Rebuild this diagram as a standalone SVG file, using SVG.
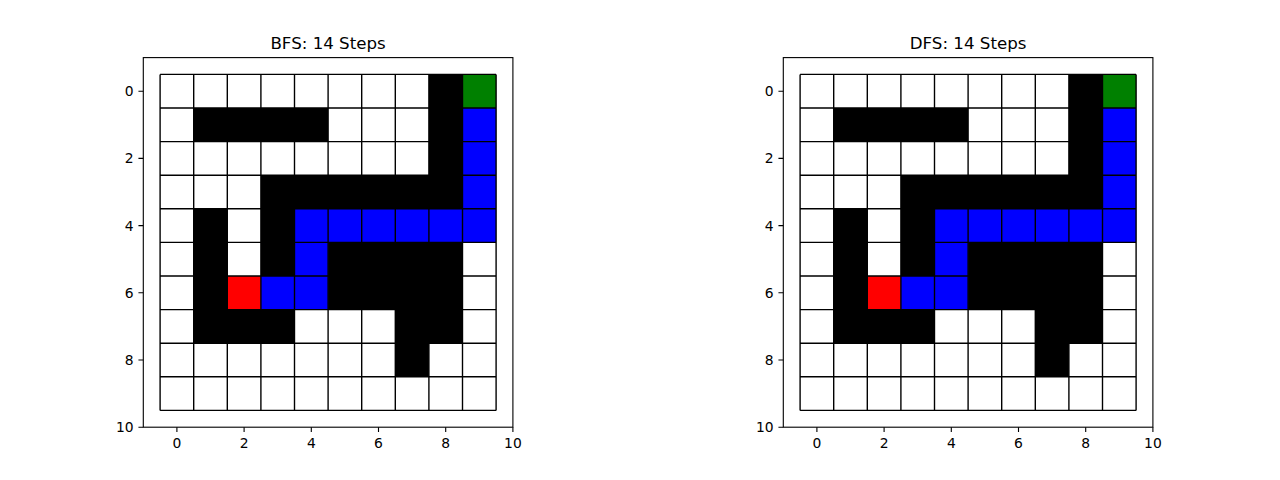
<svg xmlns="http://www.w3.org/2000/svg" xmlns:xlink="http://www.w3.org/1999/xlink" width="1280" height="480" viewBox="0 0 1280 480">
<style>
text{font-family:"DejaVu Sans",sans-serif;fill:#000}
.title{font-size:16.67px;text-anchor:middle}
.tl{font-size:13.89px}
.xt{text-anchor:middle}
.yt{text-anchor:end}
.wall{fill:#000}
.path{fill:#0000ff}
.goal{fill:#008000}
.start{fill:#ff0000}
.grid{stroke:#000;stroke-width:1.39;fill:none}
.spine{fill:none;stroke:#000;stroke-width:1.11}
.tick{stroke:#000;stroke-width:1.11}
</style>
<defs>
<g id="maze">
<rect x="16.8" y="16.8" width="336" height="336" fill="#fff"/>
<rect class="wall" x="285.6" y="16.8" width="33.6" height="100.8"/>
<rect class="wall" x="50.4" y="50.4" width="134.4" height="33.6"/>
<rect class="wall" x="117.6" y="117.6" width="201.6" height="33.6"/>
<rect class="wall" x="50.4" y="151.2" width="33.6" height="100.8"/>
<rect class="wall" x="50.4" y="252" width="100.8" height="33.6"/>
<rect class="wall" x="117.6" y="151.2" width="33.6" height="67.2"/>
<rect class="wall" x="184.8" y="184.8" width="134.4" height="67.2"/>
<rect class="wall" x="252" y="252" width="67.2" height="33.6"/>
<rect class="wall" x="252" y="285.6" width="33.6" height="33.6"/>
<rect class="path" x="319.2" y="50.4" width="33.6" height="100.8"/>
<rect class="path" x="151.2" y="151.2" width="201.6" height="33.6"/>
<rect class="path" x="151.2" y="184.8" width="33.6" height="33.6"/>
<rect class="path" x="117.6" y="218.4" width="67.2" height="33.6"/>
<rect class="goal" x="319.2" y="16.8" width="33.6" height="33.6"/>
<rect class="start" x="84" y="218.4" width="33.6" height="33.6"/>
<path class="grid" d="M16.8 16.8V352.8M50.4 16.8V352.8M84 16.8V352.8M117.6 16.8V352.8M151.2 16.8V352.8M184.8 16.8V352.8M218.4 16.8V352.8M252 16.8V352.8M285.6 16.8V352.8M319.2 16.8V352.8M352.8 16.8V352.8M16.8 16.8H352.8M16.8 50.4H352.8M16.8 84H352.8M16.8 117.6H352.8M16.8 151.2H352.8M16.8 184.8H352.8M16.8 218.4H352.8M16.8 252H352.8M16.8 285.6H352.8M16.8 319.2H352.8M16.8 352.8H352.8"/>
<rect class="spine" x="0" y="0" width="369.6" height="369.6"/>
<path class="tick" d="M33.6 369.6v4.86M100.8 369.6v4.86M168 369.6v4.86M235.2 369.6v4.86M302.4 369.6v4.86M369.6 369.6v4.86M0 33.6h-4.86M0 100.8h-4.86M0 168h-4.86M0 235.2h-4.86M0 302.4h-4.86M0 369.6h-4.86"/>
<g class="tl xt">
<text x="33.6" y="390.4">0</text>
<text x="100.8" y="390.4">2</text>
<text x="168" y="390.4">4</text>
<text x="235.2" y="390.4">6</text>
<text x="302.4" y="390.4">8</text>
<text x="369.6" y="390.4">10</text>
</g>
<g class="tl yt">
<text x="-9.72" y="38.6">0</text>
<text x="-9.72" y="105.8">2</text>
<text x="-9.72" y="173">4</text>
<text x="-9.72" y="240.2">6</text>
<text x="-9.72" y="307.4">8</text>
<text x="-9.72" y="374.6">10</text>
</g>
</g>
</defs>
<g id="bfs" transform="translate(143.3,57.6)">
<use xlink:href="#maze" href="#maze"/>
<text class="title" x="184.8" y="-8.6">BFS: 14 Steps</text>
</g>
<g id="dfs" transform="translate(783.3,57.6)">
<use xlink:href="#maze" href="#maze"/>
<text class="title" x="184.8" y="-8.6">DFS: 14 Steps</text>
</g>
<g id="connectors"/>
</svg>
